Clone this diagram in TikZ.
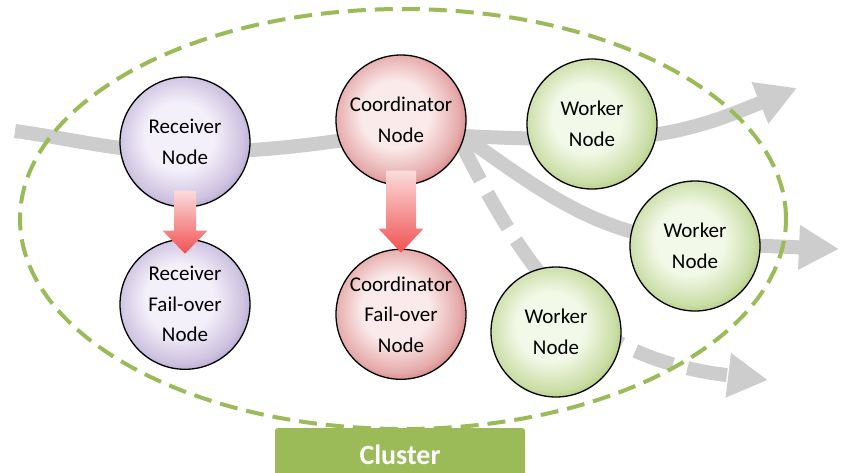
\documentclass[tikz,border=0pt]{standalone}
\usepackage{fontspec}
\setmainfont{Carlito}
\usepackage{tikz}
\usetikzlibrary{positioning,arrows.meta,backgrounds,calc}

\definecolor{recvin}{RGB}{244,240,250}
\definecolor{recvout}{RGB}{176,158,204}
\definecolor{coordin}{RGB}{251,234,234}
\definecolor{coordout}{RGB}{212,118,118}
\definecolor{workin}{RGB}{243,249,233}
\definecolor{workout}{RGB}{170,200,114}
\definecolor{flowgray}{RGB}{205,205,205}
\definecolor{clustergreen}{RGB}{155,187,89}
\definecolor{arrowtop}{RGB}{251,220,220}
\definecolor{arrowbot}{RGB}{240,82,82}

\pgfdeclareradialshading{recvball}{\pgfpoint{-3bp}{3bp}}{color(0bp)=(recvin); color(13bp)=(recvin); color(24bp)=(recvin!45!recvout); color(29bp)=(recvout); color(50bp)=(recvout)}
\pgfdeclareradialshading{coordball}{\pgfpoint{-3bp}{3bp}}{color(0bp)=(coordin); color(13bp)=(coordin); color(24bp)=(coordin!45!coordout); color(29bp)=(coordout); color(50bp)=(coordout)}
\pgfdeclareradialshading{workball}{\pgfpoint{-3bp}{3bp}}{color(0bp)=(workin); color(13bp)=(workin); color(24bp)=(workin!45!workout); color(29bp)=(workout); color(50bp)=(workout)}

\begin{document}
\begin{tikzpicture}[
    x=1pt, y=1pt,
    unit/.style={circle, draw=black, line width=1.3pt, minimum size=130pt, inner sep=0pt, align=center, text=black, font=\fontsize{21}{30.5}\selectfont, shade},
    recvunit/.style={unit, shading=recvball},
    coordunit/.style={unit, shading=coordball},
    workunit/.style={unit, shading=workball},
    flow/.style={draw=flowgray, line width=14pt, -{Triangle[width=42pt,length=40pt]}},
    dashedflow/.style={flow, dash pattern=on 40pt off 15pt},
    failarrow/.style={top color=arrowtop, bottom color=arrowbot},
    clusterbox/.style={fill=clustergreen, rounded corners=3pt, minimum width=250pt, minimum height=54pt, text=white, font=\bfseries\fontsize{28}{32}\selectfont}
    ]
    \useasboundingbox (0,0) rectangle (841,-472);
    \coordinate (src) at (15,-131);
    \coordinate (out1) at (797,-88);
    \coordinate (out2) at (839,-249);
    \coordinate (out3) at (768,-380);

    \node[recvunit] (recv) at (185,-142) {Receiver\\Node};
    \node[recvunit, below=31pt of recv] (recvfo) {Receiver\\Fail-over\\Node};
    \node[coordunit] (coord) at (401,-120) {Coordinator\\Node};
    \node[coordunit, below=63pt of coord] (coordfo) {Coordinator\\Fail-over\\Node};
    \node[workunit] (w1) at (592,-124) {Worker\\Node};
    \node[workunit] (w2) at (695,-246) {Worker\\Node};
    \node[workunit] (w3) at (556,-332) {Worker\\Node};

    \node[clusterbox] (cluster) at (400,-455) {Cluster};

    \begin{scope}[on background layer]
        \draw[flow] (src) to[out=-8,in=180] ([yshift=-10pt]recv.center) to[out=0,in=188] ([yshift=-12pt]coord.center) to[out=-4,in=180] ([yshift=-15pt]w1.center) to[out=0,in=202] (out1);
        \draw[flow] (coord.-15) to[out=-35,in=175] ([yshift=3pt]w2.center) -- (out2);
        \draw[dashedflow] (coord.-22) .. controls (540,-300) and (600,-360) .. (out3);
        \draw[clustergreen, line width=4pt, dash pattern=on 18pt off 9pt] (403,-219) ellipse [x radius=383, y radius=210];
    \end{scope}

    \shade[failarrow] ([xshift=-11pt,yshift=17pt]recv.south) -- ++(0,-40) -- ++(-11.5,0) -- ++(22.5,-23) -- ++(22.5,23) -- ++(-11.5,0) -- ++(0,40) -- cycle;
    \shade[failarrow] ([xshift=-15pt,yshift=15pt]coord.south) -- ++(0,-58) -- ++(-7.5,0) -- ++(22.5,-24) -- ++(22.5,24) -- ++(-7.5,0) -- ++(0,58) -- cycle;
\end{tikzpicture}
\end{document}
